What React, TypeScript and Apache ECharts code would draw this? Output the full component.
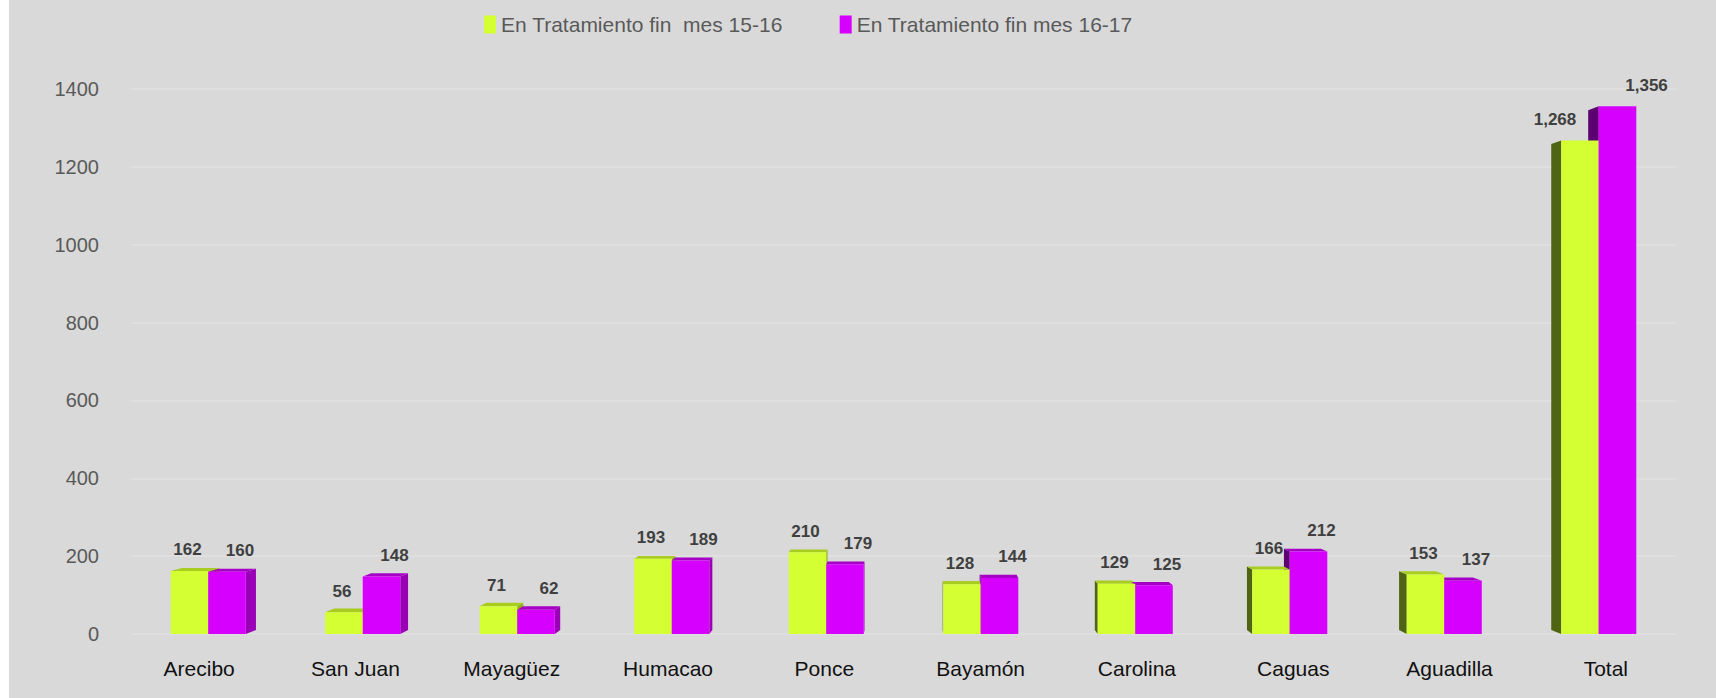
import React, { useEffect, useRef } from "react";
import * as echarts from "echarts";

const categories = ["Arecibo", "San Juan", "Mayagüez", "Humacao", "Ponce", "Bayamón", "Carolina", "Caguas", "Aguadilla", "Total"];
const serie1516 = [162, 56, 71, 193, 210, 128, 129, 166, 153, 1268];
const serie1617 = [160, 148, 62, 189, 179, 144, 125, 212, 137, 1356];
const seriesNames = ["En Tratamiento fin  mes 15-16", "En Tratamiento fin mes 16-17"];
const yMin = 0;
const yMax = 1400;
const yInterval = 200;

const VX = 900;
const VY = 374;
const T = 0.0153;

const palettes = [
  { front: "#d4ff33", top: "#a8cc20", right: "#8fae18", left: "#4f6514" },
  { front: "#d600ff", top: "#a600c6", right: "#9a00b6", left: "#5c0072" },
];

function back(p: number[]) {
  return [p[0] + T * (VX - p[0]), p[1] + T * (VY - p[1])];
}

function makeRender(sideIdx: number) {
  return (params: any, api: any) => {
    const idx = api.value(0);
    const val = api.value(1);
    const base = api.coord([idx, 0]);
    const top = api.coord([idx, val]);
    const band = api.size([1, 0])[0];
    const w = band * 0.243;
    const xl = sideIdx === 0 ? base[0] - w : base[0];
    const xr = sideIdx === 0 ? base[0] : base[0] + w;
    const yt = top[1];
    const yb = base[1];
    const pal = palettes[sideIdx];
    const children: any[] = [];
    if (xr < VX) {
      const a = [xr, yt], b = [xr, yb];
      children.push({ type: "polygon", z2: 1, shape: { points: [a, b, back(b), back(a)] }, style: { fill: pal.right } });
    }
    if (xl > VX) {
      const a = [xl, yt], b = [xl, yb];
      children.push({ type: "polygon", z2: 1, shape: { points: [a, b, back(b), back(a)] }, style: { fill: pal.left } });
    }
    if (yt > VY) {
      const a = [xl, yt], b = [xr, yt];
      children.push({ type: "polygon", z2: 2, shape: { points: [a, b, back(b), back(a)] }, style: { fill: pal.top } });
    }
    children.push({ type: "rect", z2: 10, shape: { x: xl, y: yt, width: xr - xl, height: yb - yt }, style: { fill: pal.front } });
    const isLast = idx === categories.length - 1;
    let off = sideIdx === 0 ? -2 : 13;
    if (isLast) off = sideIdx === 0 ? -25 : 29;
    children.push({
      type: "text",
      z2: 20,
      x: (xl + xr) / 2 + off,
      y: yt - 21,
      style: {
        text: Number(val).toLocaleString("en-US"),
        fill: "#404040",
        font: "bold 17px 'Liberation Sans', Arial, sans-serif",
        align: "center",
        verticalAlign: "middle",
      },
    });
    return { type: "group", children };
  };
}

export default function App() {
  const ref = useRef<HTMLDivElement>(null);
  useEffect(() => {
    if (!ref.current) return;
    const chart = echarts.init(ref.current, null, { renderer: "svg" });
    chart.setOption({
      animation: false,
      backgroundColor: "#d9d9d9",
      textStyle: { fontFamily: "'Liberation Sans', Arial, sans-serif" },
      legend: {
        top: 9,
        left: 470,
        itemWidth: 12,
        itemHeight: 18,
        itemGap: 57,
        icon: "rect",
        textStyle: { color: "#595959", fontSize: 21 },
        data: seriesNames,
      },
      grid: [
        { left: 122, right: 40, top: 89, bottom: 64 },
        { left: 112, right: 32, top: 89, bottom: 64 },
      ],
      xAxis: [
        {
          type: "category",
          gridIndex: 0,
          data: categories,
          axisLine: { show: false },
          axisTick: { show: false },
          axisLabel: { show: false },
        },
        {
          type: "category",
          gridIndex: 1,
          data: categories,
          axisLine: { show: false },
          axisTick: { show: false },
          axisLabel: { color: "#111111", fontSize: 21, margin: 24 },
        },
      ],
      yAxis: [
        {
          type: "value",
          gridIndex: 0,
          min: yMin,
          max: yMax,
          interval: yInterval,
          axisLine: { show: false },
          axisTick: { show: false },
          axisLabel: { color: "#595959", fontSize: 20, margin: 32, formatter: (v: number) => String(v) },
          splitLine: { lineStyle: { color: "#e0e0e0", width: 1.5 } },
        },
        {
          type: "value",
          gridIndex: 1,
          min: yMin,
          max: yMax,
          interval: yInterval,
          show: false,
        },
      ],
      series: [
        {
          name: seriesNames[0],
          type: "custom",
          xAxisIndex: 0,
          yAxisIndex: 0,
          renderItem: makeRender(0),
          itemStyle: { color: palettes[0].front },
          encode: { x: 0, y: 1 },
          data: serie1516.map((v, i) => [i, v]),
        },
        {
          name: seriesNames[1],
          type: "custom",
          xAxisIndex: 0,
          yAxisIndex: 0,
          renderItem: makeRender(1),
          itemStyle: { color: palettes[1].front },
          encode: { x: 0, y: 1 },
          data: serie1617.map((v, i) => [i, v]),
        },
      ],
    });
    return () => chart.dispose();
  }, []);
  return (
    <div
      ref={ref}
      style={{ position: "fixed", left: 9, top: 0, width: 1707, height: 698 }}
    />
  );
}
